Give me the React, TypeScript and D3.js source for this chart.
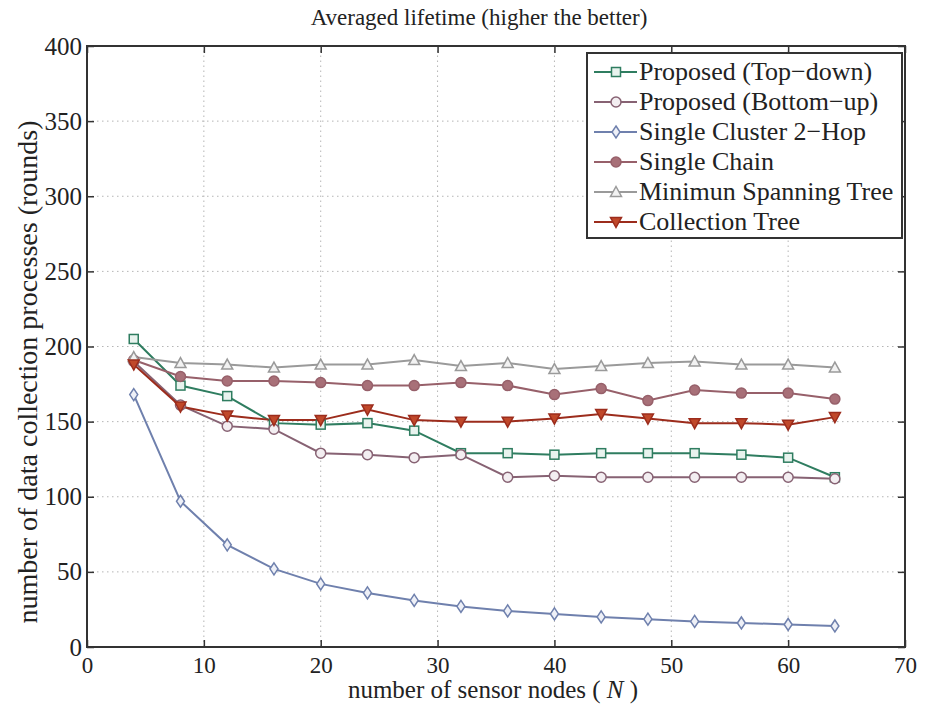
import React, { useRef, useEffect } from 'react';
import * as d3 from 'd3';

// x positions (number of sensor nodes)
const nodes = [4, 8, 12, 16, 20, 24, 28, 32, 36, 40, 44, 48, 52, 56, 60, 64];

const topDown = [205, 174, 167, 149, 148, 149, 144, 129, 129, 128, 129, 129, 129, 128, 126, 113];
const bottomUp = [190, 161, 147, 145, 129, 128, 126, 128, 113, 114, 113, 113, 113, 113, 113, 112];
const cluster2Hop = [168, 97, 68, 52, 42, 36, 31, 27, 24, 22, 20, 18.5, 17, 16, 15, 14];
const singleChain = [191, 180, 177, 177, 176, 174, 174, 176, 174, 168, 172, 164, 171, 169, 169, 165];
const mst = [193, 189, 188, 186, 188, 188, 191, 187, 189, 185, 187, 189, 190, 188, 188, 186];
const collectionTree = [188, 160, 154, 151, 151, 158, 151, 150, 150, 152, 155, 152, 149, 149, 148, 153];

const xTicks = [0, 10, 20, 30, 40, 50, 60, 70];
const yTicks = [0, 50, 100, 150, 200, 250, 300, 350, 400];

const seriesNames = [
  'Proposed (Top\u2212down)',
  'Proposed (Bottom\u2212up)',
  'Single Cluster 2\u2212Hop',
  'Single Chain',
  'Minimun Spanning Tree',
  'Collection Tree',
];

type Marker = 'square' | 'circle' | 'diamond' | 'dot' | 'triangle' | 'tridown';

const series: { name: string; values: number[]; color: string; marker: Marker; fill: string }[] = [
  { name: seriesNames[0], values: topDown, color: '#2f7d60', marker: 'square', fill: '#e8f3ee' },
  { name: seriesNames[1], values: bottomUp, color: '#876273', marker: 'circle', fill: '#f3eef1' },
  { name: seriesNames[2], values: cluster2Hop, color: '#6f80ad', marker: 'diamond', fill: '#eef0f7' },
  { name: seriesNames[3], values: singleChain, color: '#97606a', marker: 'dot', fill: '#a87078' },
  { name: seriesNames[4], values: mst, color: '#9a9a9a', marker: 'triangle', fill: '#f2f2f2' },
  { name: seriesNames[5], values: collectionTree, color: '#9c2c1c', marker: 'tridown', fill: '#c0482a' },
];

const W = 925;
const H = 706;
const margin = { left: 87, right: 20, top: 46, bottom: 59 };
const font = '"Liberation Serif", "Times New Roman", Times, serif';

function drawMarker(g: d3.Selection<SVGGElement, unknown, null, undefined>, kind: Marker, cx: number, cy: number, color: string, fill: string) {
  const r = 4.5;
  if (kind === 'square') {
    g.append('rect').attr('x', cx - r).attr('y', cy - r).attr('width', 2 * r).attr('height', 2 * r)
      .attr('fill', fill).attr('stroke', color).attr('stroke-width', 1.5);
  } else if (kind === 'circle' || kind === 'dot') {
    g.append('circle').attr('cx', cx).attr('cy', cy).attr('r', r + 0.5)
      .attr('fill', fill).attr('stroke', color).attr('stroke-width', 1.5);
  } else if (kind === 'diamond') {
    g.append('path').attr('d', `M${cx},${cy - r - 1.5}L${cx + r - 0.5},${cy}L${cx},${cy + r + 1.5}L${cx - r + 0.5},${cy}Z`)
      .attr('fill', fill).attr('stroke', color).attr('stroke-width', 1.5);
  } else if (kind === 'triangle') {
    g.append('path').attr('d', `M${cx},${cy - r - 1}L${cx + r + 1},${cy + r}L${cx - r - 1},${cy + r}Z`)
      .attr('fill', fill).attr('stroke', color).attr('stroke-width', 1.5);
  } else {
    g.append('path').attr('d', `M${cx},${cy + r + 1}L${cx + r + 1},${cy - r}L${cx - r - 1},${cy - r}Z`)
      .attr('fill', fill).attr('stroke', color).attr('stroke-width', 1.5);
  }
}

const App: React.FC = () => {
  const svgRef = useRef<SVGSVGElement>(null);

  useEffect(() => {
    if (!svgRef.current) return;
    const svg = d3.select(svgRef.current);
    svg.selectAll('*').remove();

    const x0 = margin.left;
    const x1 = W - margin.right;
    const y0 = H - margin.bottom;
    const y1 = margin.top;

    const x = d3.scaleLinear().domain([0, 70]).range([x0, x1]);
    const y = d3.scaleLinear().domain([0, 400]).range([y0, y1]);

    svg.append('rect').attr('width', W).attr('height', H).attr('fill', '#fff');
    const g = svg.append('g');

    // grid
    const grid = g.append('g').attr('stroke', '#b5b5b5').attr('stroke-width', 1).attr('stroke-dasharray', '1.5,3.5');
    xTicks.slice(1, -1).forEach(t => {
      grid.append('line').attr('x1', x(t)).attr('x2', x(t)).attr('y1', y0).attr('y2', y1);
    });
    yTicks.slice(1, -1).forEach(t => {
      grid.append('line').attr('x1', x0).attr('x2', x1).attr('y1', y(t)).attr('y2', y(t));
    });

    // series
    const line = d3.line<number>().x((_, i) => x(nodes[i])).y(d => y(d));
    series.forEach(s => {
      g.append('path').datum(s.values).attr('d', line).attr('fill', 'none')
        .attr('stroke', s.color).attr('stroke-width', 2);
    });
    series.forEach(s => {
      const mg = g.append('g');
      s.values.forEach((v, i) => drawMarker(mg, s.marker, x(nodes[i]), y(v), s.color, s.fill));
    });

    // axes box with inner ticks
    const axisColor = '#333';
    g.append('rect').attr('x', x0).attr('y', y1).attr('width', x1 - x0).attr('height', y0 - y1)
      .attr('fill', 'none').attr('stroke', axisColor).attr('stroke-width', 2);

    const bottom = d3.axisBottom(x).tickValues(xTicks).tickSizeInner(-7).tickSizeOuter(0).tickPadding(10);
    const left = d3.axisLeft(y).tickValues(yTicks).tickSizeInner(-7).tickSizeOuter(0).tickPadding(5);
    const top = d3.axisTop(x).tickValues(xTicks).tickSizeInner(-7).tickSizeOuter(0).tickFormat(() => '');
    const right = d3.axisRight(y).tickValues(yTicks).tickSizeInner(-7).tickSizeOuter(0).tickFormat(() => '');

    const styleAxis = (a: d3.Selection<SVGGElement, unknown, null, undefined>, size: number) => {
      a.attr('font-family', font).attr('font-size', size);
      a.select('.domain').remove();
      a.selectAll('line').attr('stroke', axisColor).attr('stroke-width', 1.5);
      a.selectAll('text').attr('fill', '#222').attr('font-family', font).attr('font-size', size);
    };
    styleAxis(g.append('g').attr('transform', `translate(0,${y0})`).call(bottom), 23);
    styleAxis(g.append('g').attr('transform', `translate(${x0},0)`).call(left), 25);
    styleAxis(g.append('g').attr('transform', `translate(0,${y1})`).call(top), 10);
    styleAxis(g.append('g').attr('transform', `translate(${x1},0)`).call(right), 10);

    // title
    svg.append('text').attr('x', 479).attr('y', 25).attr('text-anchor', 'middle')
      .attr('font-family', font).attr('font-size', 23).attr('fill', '#222')
      .text('Averaged lifetime (higher the better)');

    // x label
    const xl = svg.append('text').attr('x', 493).attr('y', 698).attr('text-anchor', 'middle')
      .attr('font-family', font).attr('font-size', 25).attr('fill', '#222');
    xl.append('tspan').text('number of sensor nodes ( ');
    xl.append('tspan').attr('font-style', 'italic').text('N');
    xl.append('tspan').text(' )');

    // y label
    svg.append('text').attr('transform', `translate(37,372) rotate(-90)`).attr('text-anchor', 'middle')
      .attr('font-family', font).attr('font-size', 28).attr('fill', '#222')
      .text('number of data collection processes (rounds)');

    // legend
    const lg = svg.append('g');
    lg.append('rect').attr('x', 587).attr('y', 53).attr('width', 315).attr('height', 185)
      .attr('fill', '#fff').attr('stroke', axisColor).attr('stroke-width', 2);
    series.forEach((s, i) => {
      const ly = 72 + i * 30;
      lg.append('line').attr('x1', 594).attr('x2', 637).attr('y1', ly).attr('y2', ly)
        .attr('stroke', s.color).attr('stroke-width', 2);
      const mg = lg.append('g');
      drawMarker(mg, s.marker, 616, ly, s.color, s.fill);
      lg.append('text').attr('x', 639).attr('y', ly + 8).attr('font-family', font).attr('font-size', 26)
        .attr('fill', '#222').text(s.name);
    });
  }, []);

  return (
    <div style={{ position: 'absolute', left: 0, top: 0 }}>
      <svg ref={svgRef} width={W} height={H}></svg>
    </div>
  );
};

export default App;
